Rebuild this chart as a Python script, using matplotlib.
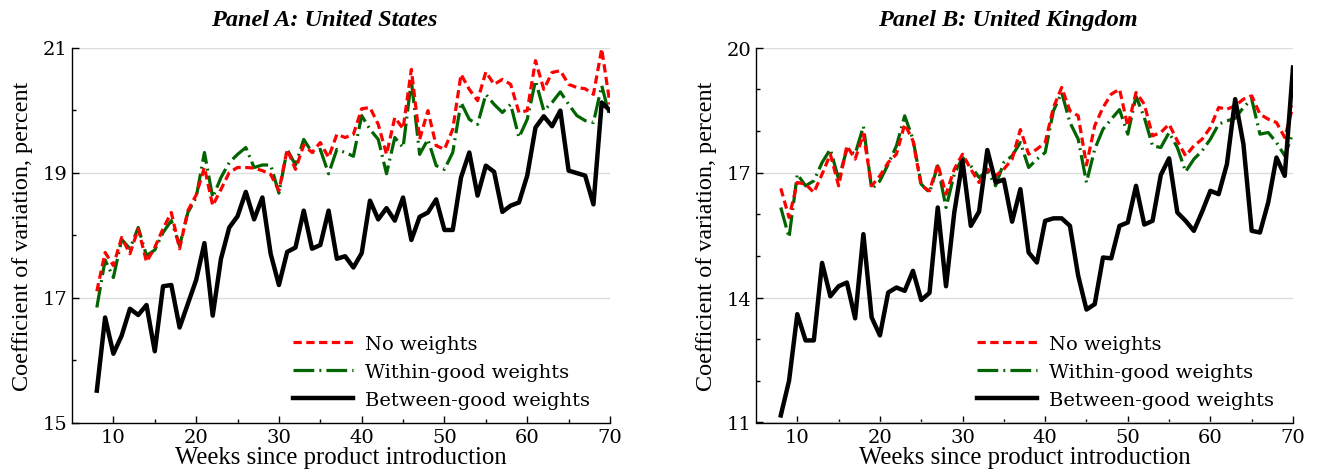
import matplotlib
matplotlib.use("Agg")
import matplotlib.pyplot as plt

weeks = list(range(8, 71))

# Panel A: United States
us_no_weights = [17.10, 17.72, 17.51, 17.96, 17.70, 18.10, 17.57, 17.80, 18.10, 18.36,
                 17.78, 18.39, 18.64, 19.08, 18.47, 18.73, 19.00, 19.08, 19.08, 19.07,
                 19.03, 18.97, 18.71, 19.37, 19.05, 19.44, 19.32, 19.48, 19.24, 19.61,
                 19.56, 19.61, 20.02, 20.04, 19.77, 19.29, 19.88, 19.70, 20.65, 19.53,
                 19.99, 19.43, 19.37, 19.69, 20.57, 20.33, 20.15, 20.61, 20.41, 20.49,
                 20.41, 19.96, 19.99, 20.79, 20.33, 20.60, 20.63, 20.41, 20.36, 20.34,
                 20.25, 20.98, 20.09]
us_within = [16.84, 17.60, 17.32, 17.93, 17.78, 18.12, 17.67, 17.76, 18.04, 18.23,
             17.83, 18.36, 18.60, 19.32, 18.60, 18.92, 19.16, 19.29, 19.40, 19.08,
             19.12, 19.12, 18.67, 19.37, 19.12, 19.53, 19.32, 19.37, 18.98, 19.37,
             19.32, 19.26, 19.91, 19.69, 19.53, 18.98, 19.56, 19.40, 20.47, 19.29,
             19.53, 19.11, 19.05, 19.32, 20.12, 19.85, 19.77, 20.25, 20.09, 19.96,
             20.09, 19.56, 19.85, 20.47, 19.99, 20.12, 20.29, 20.09, 19.91, 19.83,
             19.80, 20.39, 19.88]
us_between = [15.51, 16.68, 16.10, 16.39, 16.82, 16.72, 16.88, 16.14, 17.18, 17.20,
              16.52, 16.90, 17.28, 17.87, 16.71, 17.62, 18.12, 18.30, 18.69, 18.25,
              18.60, 17.70, 17.20, 17.73, 17.80, 18.39, 17.78, 17.84, 18.39, 17.62,
              17.66, 17.48, 17.71, 18.55, 18.25, 18.43, 18.23, 18.60, 17.92, 18.29,
              18.36, 18.57, 18.08, 18.08, 18.92, 19.32, 18.63, 19.11, 19.01, 18.37,
              18.47, 18.52, 18.95, 19.72, 19.90, 19.74, 19.99, 19.03, 18.99, 18.95,
              18.49, 20.12, 19.99]

# Panel B: United Kingdom
uk_no_weights = [16.62, 15.92, 16.76, 16.72, 16.52, 16.96, 17.44, 16.68, 17.64, 17.32,
                 17.92, 16.68, 16.92, 17.24, 17.44, 18.16, 17.76, 16.68, 16.56, 17.20,
                 16.48, 17.08, 17.44, 17.08, 16.76, 17.08, 16.92, 17.08, 17.32, 18.03,
                 17.44, 17.56, 17.72, 18.56, 19.04, 18.48, 18.36, 17.18, 18.12, 18.56,
                 18.88, 19.00, 18.11, 18.92, 18.64, 17.88, 17.96, 18.16, 17.76, 17.40,
                 17.64, 17.80, 18.08, 18.56, 18.52, 18.60, 18.76, 18.84, 18.40, 18.28,
                 18.20, 17.84, 18.60]
uk_within = [16.16, 15.44, 16.96, 16.68, 16.80, 17.24, 17.56, 16.84, 17.56, 17.44,
             18.11, 16.60, 16.80, 17.20, 17.64, 18.36, 17.80, 16.72, 16.52, 17.16,
             16.16, 16.96, 17.36, 17.16, 16.88, 17.04, 16.68, 17.24, 17.40, 17.72,
             17.12, 17.32, 17.48, 18.48, 18.92, 18.20, 17.80, 16.76, 17.56, 18.04,
             18.28, 18.51, 17.92, 18.83, 18.32, 17.64, 17.60, 17.96, 17.60, 17.02,
             17.32, 17.52, 17.80, 18.16, 18.24, 18.30, 18.56, 18.76, 17.92, 17.96,
             17.72, 17.40, 17.96]
uk_between = [11.17, 12.00, 13.60, 12.97, 12.97, 14.83, 14.03, 14.27, 14.36, 13.50,
              15.52, 13.52, 13.09, 14.12, 14.24, 14.16, 14.64, 13.94, 14.11, 16.16,
              14.27, 16.04, 17.28, 15.72, 16.06, 17.54, 16.76, 16.83, 15.82, 16.60,
              15.08, 14.84, 15.84, 15.90, 15.90, 15.72, 14.52, 13.71, 13.84, 14.96,
              14.94, 15.72, 15.80, 16.68, 15.75, 15.84, 16.94, 17.34, 16.04, 15.84,
              15.60, 16.06, 16.56, 16.48, 17.20, 18.76, 17.68, 15.60, 15.56, 16.28,
              17.36, 16.92, 19.52]

series_labels = ["No weights", "Within-good weights", "Between-good weights"]
panel_titles = ["Panel A: United States", "Panel B: United Kingdom"]
x_label = "Weeks since product introduction"
y_label = "Coefficient of variation, percent"

x_major = [10, 20, 30, 40, 50, 60, 70]
x_minor = [15, 25, 35, 45, 55, 65]
us_y_major = [15, 17, 19, 21]
us_y_minor = [16, 18, 20]
uk_y_major = [11, 14, 17, 20]
uk_y_minor = [12, 13, 15, 16, 18, 19]

TICK_FONT = "DejaVu Serif"
LABEL_FONT = "Liberation Serif"

fig = plt.figure(figsize=(13.18, 4.77), dpi=100)
W, H = 1318, 477

panels = [
    dict(left=72, right=610, data=(us_no_weights, us_within, us_between),
         ylim=(15, 21), ymaj=us_y_major, ymin=us_y_minor,
         title=panel_titles[0], tcx=324),
    dict(left=756, right=1293, data=(uk_no_weights, uk_within, uk_between),
         ylim=(11, 20), ymaj=uk_y_major, ymin=uk_y_minor,
         title=panel_titles[1], tcx=1008),
]

top_px, bottom_px = 48.5, 423.5

for p in panels:
    ax = fig.add_axes([p["left"] / W, 1 - bottom_px / H,
                       (p["right"] - p["left"]) / W, (bottom_px - top_px) / H])
    no_w, within_w, between_w = p["data"]
    ax.plot(weeks, no_w, color="#ff0000", lw=2.3, linestyle=(0, (2.6, 1.4)),
            label=series_labels[0], zorder=3)
    ax.plot(weeks, within_w, color="#006400", lw=2.3,
            linestyle=(0, (6.5, 1.6, 0.6, 1.6)), label=series_labels[1], zorder=2)
    ax.plot(weeks, between_w, color="black", lw=3.2, label=series_labels[2],
            zorder=4)

    ax.set_xlim(5, 70)
    ax.set_ylim(*p["ylim"])
    ax.set_xticks(x_major)
    ax.set_xticks(x_minor, minor=True)
    ax.set_yticks(p["ymaj"])
    ax.set_yticks(p["ymin"], minor=True)

    ax.grid(axis="y", which="major", color="#dcdcdc", lw=1.0, zorder=0)
    ax.set_axisbelow(True)
    for side in ("top", "right"):
        ax.spines[side].set_visible(False)
    for side in ("left", "bottom"):
        ax.spines[side].set_linewidth(1.0)

    ax.tick_params(which="major", direction="in", length=5, width=1,
                   labelsize=14)
    ax.tick_params(which="minor", direction="in", length=3, width=1)
    ax.tick_params(axis="x", which="major", pad=4)
    ax.tick_params(axis="y", which="major", pad=3)
    for lbl in ax.get_xticklabels() + ax.get_yticklabels():
        lbl.set_fontfamily(TICK_FONT)

    ax.set_xlabel(x_label, fontfamily=LABEL_FONT, fontsize=17.8, labelpad=0)
    ax.set_ylabel(y_label, fontfamily=LABEL_FONT, fontsize=17.4)
    ax.yaxis.set_label_coords(-0.072, 0.5)

    fig.text(p["tcx"] / W, 1 - 26 / H, p["title"], ha="center",
             va="baseline", fontfamily=LABEL_FONT, fontsize=17.5,
             fontweight="bold", fontstyle="italic")

    ax.legend(loc="upper left", bbox_to_anchor=(0.411, 0.233), frameon=False,
              prop={"family": TICK_FONT, "size": 14}, handlelength=3.1,
              handletextpad=0.6, labelspacing=0.5, borderpad=0,
              borderaxespad=0)

fig.savefig("out.png", dpi=100)
